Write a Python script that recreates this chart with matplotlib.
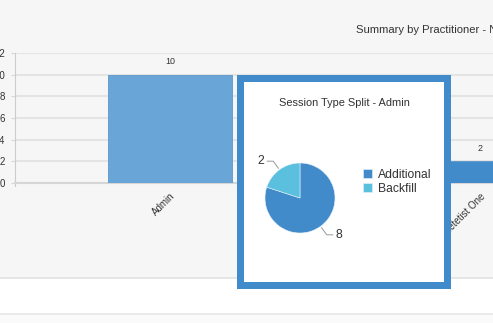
# Summary by practitioner, with the session type popup for Admin

import numpy as np
import matplotlib.pyplot as plt
from matplotlib.patches import Rectangle

plt.rcParams['font.family'] = ['Liberation Sans', 'DejaVu Sans']

practitioners = ["Admin", "Dietetist One"]
sessions = [10, 2]
bar_colors = ["#6aa5d7", "#428bca"]
y_ticks = [0, 2, 4, 6, 8, 10, 12]

split_labels = ["Additional", "Backfill"]
split_values = [8, 2]
split_colors = ["#428bca", "#5bc0de"]

W, H = 493, 323
fig = plt.figure(figsize=(W / 100, H / 100), dpi=100, facecolor="white")


def box(x0, y0, x1, y1):
    # pixel box (top-left origin) -> figure rect
    return [x0 / W, 1 - y1 / H, (x1 - x0) / W, (y1 - y0) / H]


# page background bands
fig.patches.append(Rectangle((0, 1 - 278 / H), 1, 278 / H, transform=fig.transFigure,
                             facecolor="#f6f6f6", edgecolor="none", zorder=-10))
fig.patches.append(Rectangle((0, 0), 1, 9 / H, transform=fig.transFigure,
                             facecolor="#fafafa", edgecolor="none", zorder=-10))
fig.lines.append(plt.Line2D([0, 1], [1 - 278 / H] * 2, transform=fig.transFigure,
                            color="#e2e2e2", lw=1.2))
fig.lines.append(plt.Line2D([0, 1], [1 - 314 / H] * 2, transform=fig.transFigure,
                            color="#e6e6e6", lw=1.2))

fig.text(356 / W, 1 - 30 / H, "Summary by Practitioner - Number of Sessions",
         fontsize=8.1, color="#333333", ha="left", va="center")

# main bar chart (runs past the right edge of the picture)
ax = fig.add_axes(box(15, 53, 635, 183))
ax.set_facecolor("none")
x = np.arange(len(practitioners))
bars = ax.bar(x, sessions, width=0.403, color=bar_colors, edgecolor="#5b97cc", linewidth=0.6, zorder=3)
for b, v in zip(bars, sessions):
    ax.annotate(str(v), (b.get_x() + b.get_width() / 2, v), xytext=(0, 9.5), textcoords="offset points",
                ha="center", va="center", fontsize=6.4, color="#333333")
ax.set_xlim(-0.5, 1.5)
ax.set_ylim(0, 12)
ax.set_yticks(y_ticks)
ax.set_yticklabels([str(t) for t in y_ticks], fontsize=7, color="#333333")
ax.grid(axis="y", color="#e4e4e4", linewidth=1.5, zorder=0)
ax.set_xticks(x)
ax.set_xticklabels(practitioners, rotation=45, ha="right", rotation_mode="anchor",
                   fontsize=7, color="#333333")
ax.tick_params(axis="y", length=3, color="#d8d8d8", pad=4.5)
ax.tick_params(axis="x", length=0, pad=6)
for s in ["top", "right"]:
    ax.spines[s].set_visible(False)
ax.spines["bottom"].set_color("#d6d6d6")
ax.spines["bottom"].set_linewidth(1.5)
ax.spines["left"].set_color("#cccccc")
ax.spines["left"].set_linewidth(0.8)
ax.spines["left"].set_bounds(-0.25, 12)

# popup box
fig.patches.append(Rectangle((237 / W, 1 - 289 / H), 214 / W, 214 / H, transform=fig.transFigure,
                             facecolor="#428bca", edgecolor="none", zorder=5))
fig.patches.append(Rectangle((244 / W, 1 - 282 / H), 200 / W, 200 / H, transform=fig.transFigure,
                             facecolor="white", edgecolor="none", zorder=6))
fig.text(344 / W, 1 - 103 / H, "Session Type Split - Admin", fontsize=7.9, color="#333333",
         ha="center", va="center", zorder=7)

pax = fig.add_axes(box(230, 128, 370, 268))
pax.set_zorder(8)
pax.set_facecolor("none")
wedges, _ = pax.pie(split_values, colors=split_colors, startangle=90, counterclock=False,
                    wedgeprops=dict(edgecolor="#e8f1f9", linewidth=0.4))
pax.set_xlim(-2, 2)
pax.set_ylim(-2, 2)
pax.set_aspect("equal")
pax.axis("off")
for w, v in zip(wedges, split_values):
    ang = np.deg2rad((w.theta1 + w.theta2) / 2)
    cx, cy = np.cos(ang), np.sin(ang)
    sx = np.sign(cx)
    p0 = (1.05 * cx, 1.05 * cy)
    p1 = (1.3 * cx, 1.3 * cy)
    p2 = (p1[0] + 0.17 * sx, p1[1])
    pax.plot([p0[0], p1[0], p2[0]], [p0[1], p1[1], p2[1]], color="#999999", lw=0.7)
    pax.text(p2[0] + 0.08 * sx, p2[1], str(v), fontsize=8.8, color="#333333",
             ha="left" if sx > 0 else "right", va="center")

leg = fig.legend(wedges, split_labels, loc="upper left", bbox_to_anchor=(357 / W, 1 - 163 / H),
                 frameon=False, fontsize=8.7, handlelength=0.75, handleheight=0.75,
                 handletextpad=0.45, labelspacing=0.15, borderpad=0, labelcolor="#333333")
leg.set_zorder(9)

fig.savefig("out.png", dpi=100)
